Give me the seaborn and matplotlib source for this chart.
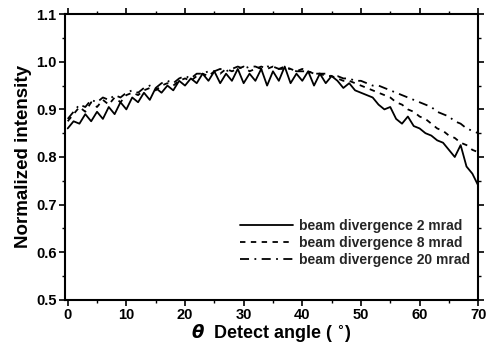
import matplotlib
matplotlib.use("Agg")
import matplotlib.pyplot as plt
import numpy as np
import pandas as pd
import seaborn as sns

sns.set_theme(style="white")
plt.rcParams['font.family'] = ['Liberation Sans', 'DejaVu Sans']
plt.rcParams['font.weight'] = 'bold'

angle = list(range(0, 71))

# beam divergence 2 mrad (solid)
div_2 = [0.86, 0.875, 0.87, 0.89, 0.875, 0.895, 0.88, 0.905, 0.89, 0.915,
         0.90, 0.925, 0.915, 0.935, 0.92, 0.945, 0.935, 0.95, 0.94, 0.96,
         0.95, 0.965, 0.955, 0.975, 0.96, 0.98, 0.955, 0.975, 0.96, 0.985,
         0.955, 0.975, 0.96, 0.985, 0.95, 0.98, 0.96, 0.99, 0.955, 0.975,
         0.96, 0.98, 0.95, 0.975, 0.955, 0.97, 0.96, 0.945, 0.955, 0.94,
         0.935, 0.93, 0.925, 0.91, 0.90, 0.905, 0.88, 0.87, 0.885, 0.865,
         0.86, 0.85, 0.845, 0.835, 0.83, 0.815, 0.80, 0.825, 0.78, 0.765,
         0.74]

# beam divergence 8 mrad (dashed)
div_8 = [0.875, 0.89, 0.905, 0.895, 0.915, 0.905, 0.92, 0.91, 0.925, 0.915,
         0.93, 0.935, 0.93, 0.94, 0.945, 0.94, 0.95, 0.955, 0.95, 0.96,
         0.965, 0.96, 0.97, 0.975, 0.97, 0.98, 0.975, 0.985, 0.98, 0.985,
         0.99, 0.98, 0.985, 0.99, 0.985, 0.99, 0.985, 0.99, 0.985, 0.98,
         0.985, 0.98, 0.975, 0.975, 0.97, 0.97, 0.965, 0.96, 0.96, 0.955,
         0.95, 0.945, 0.94, 0.935, 0.93, 0.925, 0.915, 0.91, 0.90, 0.895,
         0.885, 0.88, 0.87, 0.86, 0.855, 0.845, 0.84, 0.83, 0.825, 0.815,
         0.81]

# beam divergence 20 mrad (dash-dot)
div_20 = [0.88, 0.895, 0.91, 0.905, 0.92, 0.915, 0.925, 0.92, 0.93, 0.925,
          0.935, 0.94, 0.935, 0.945, 0.95, 0.945, 0.955, 0.96, 0.955, 0.965,
          0.97, 0.965, 0.975, 0.975, 0.98, 0.98, 0.985, 0.98, 0.985, 0.99,
          0.985, 0.99, 0.99, 0.985, 0.99, 0.99, 0.985, 0.985, 0.985, 0.98,
          0.98, 0.98, 0.975, 0.975, 0.975, 0.97, 0.97, 0.965, 0.965, 0.96,
          0.96, 0.955, 0.95, 0.95, 0.945, 0.94, 0.935, 0.93, 0.925, 0.92,
          0.915, 0.91, 0.905, 0.895, 0.89, 0.885, 0.875, 0.87, 0.86, 0.855,
          0.85]

labels = ["beam divergence 2 mrad", "beam divergence 8 mrad", "beam divergence 20 mrad"]
styles = ["-", (0, (3, 3)), (0, (5, 3, 1, 3))]
x_ticks = [0, 10, 20, 30, 40, 50, 60, 70]
y_ticks = [0.5, 0.6, 0.7, 0.8, 0.9, 1.0, 1.1]
y_tick_labels = ["0.5", "0.6", "0.7", "0.8", "0.9", "1.0", "1.1"]

fig, ax = plt.subplots(figsize=(4.87, 3.54), dpi=100)
fig.subplots_adjust(left=0.133, right=0.982, bottom=0.153, top=0.96)

for y, lab, ls in zip([div_2, div_8, div_20], labels, styles):
    df = pd.DataFrame({"angle": angle, "val": y})
    sns.lineplot(x="angle", y="val", data=df, ax=ax, color="black",
                 linewidth=1.3, linestyle=ls, label=lab)

ax.set_xlim(-0.5, 70)
ax.set_ylim(0.5, 1.1)
ax.set_xticks(x_ticks)
ax.set_xticklabels([str(v) for v in x_ticks], fontweight="bold")
ax.set_xticks(range(0, 71, 5), minor=True)
ax.set_yticks(y_ticks)
ax.set_yticklabels(y_tick_labels, fontweight="bold")
ax.set_yticks(np.arange(0.5, 1.101, 0.05), minor=True)

for s in ax.spines.values():
    s.set_color("black")
    s.set_linewidth(1.5)
ax.tick_params(which="both", direction="out", colors="black", labelsize=10.5,
               top=True, right=True, bottom=True, left=True)
ax.tick_params(which="major", length=4, width=1.2, pad=2)
ax.tick_params(which="minor", length=2, width=1)

ax.set_xlabel(r"$\mathit{\theta}$  Detect angle ( $^{\circ}$)", fontsize=13,
              color="black", labelpad=0, fontweight="bold")
ax.set_ylabel("Normalized intensity", fontsize=13.5, color="black",
              labelpad=3, fontweight="bold")

leg = ax.legend(loc="lower right", bbox_to_anchor=(1.01, 0.07), frameon=False,
                fontsize=10, handlelength=3.8, handletextpad=0.4,
                labelspacing=0.22)
for t in leg.get_texts():
    t.set_fontweight("bold")

fig.savefig("out.png", dpi=100)
